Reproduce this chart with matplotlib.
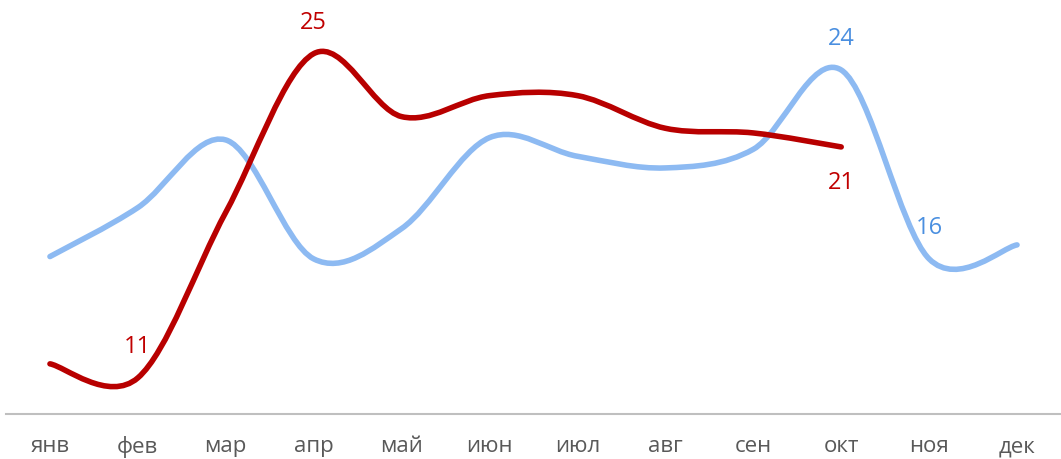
import numpy as np
import matplotlib.pyplot as plt
from matplotlib.path import Path
from matplotlib.patches import PathPatch

months = ['янв', 'фев', 'мар', 'апр', 'май', 'июн', 'июл', 'авг', 'сен', 'окт', 'ноя', 'дек']
blue_values = [16.3, 18.4, 21.3, 16.2, 17.5, 21.4, 20.6, 20.1, 20.9, 24.3, 16.2, 16.8]
red_values = [11.7, 11.1, 18.2, 25.0, 22.3, 23.2, 23.2, 21.8, 21.6, 21.0]

# which points get a value label: (index, text, above?)
blue_labels = [(9, '24', True), (10, '16', True)]
red_labels = [(1, '11', True), (3, '25', True), (9, '21', False)]

BLUE = '#8dbaf2'
BLUE_TXT = '#4a8fe0'
RED = '#b80000'
RED_TXT = '#c00000'

plt.rcParams['font.family'] = ['Open Sans', 'DejaVu Sans']


def smooth_path(xs, ys):
    # excel-like smoothed line: cubic bezier through every point
    pts = np.column_stack([xs, ys])
    n = len(pts)
    verts = [pts[0]]
    codes = [Path.MOVETO]
    for i in range(n - 1):
        p0 = pts[i - 1] if i > 0 else pts[i]
        p1 = pts[i]
        p2 = pts[i + 1]
        p3 = pts[i + 2] if i + 2 < n else pts[i + 1]
        c1 = p1 + (p2 - p0) / 6
        c2 = p2 - (p3 - p1) / 6
        verts += [c1, c2, p2]
        codes += [Path.CURVE4] * 3
    return Path(verts, codes)


fig = plt.figure(figsize=(10.61, 4.59), dpi=100)
ax = fig.add_axes([6 / 1061, 45 / 459, 1 - 6 / 1061, 414 / 459])

x_blue = np.arange(len(blue_values))
x_red = np.arange(len(red_values))

ax.add_patch(PathPatch(smooth_path(x_blue, blue_values), fill=False,
                       edgecolor=BLUE, lw=4, capstyle='round', joinstyle='round'))
ax.add_patch(PathPatch(smooth_path(x_red, red_values), fill=False,
                       edgecolor=RED, lw=4, capstyle='round', joinstyle='round'))

for i, txt, above in blue_labels:
    ax.annotate(txt, (i, blue_values[i]), xytext=(0, 22 if above else -26),
                textcoords='offset points', ha='center', va='center',
                color=BLUE_TXT, fontsize=17)
for i, txt, above in red_labels:
    ax.annotate(txt, (i, red_values[i]), xytext=(0, 22 if above else -26),
                textcoords='offset points', ha='center', va='center',
                color=RED_TXT, fontsize=17)

ax.set_xlim(-0.5, 11.5)
ax.set_ylim(9.55, 27.3)
ax.set_xticks(range(len(months)))
ax.set_xticklabels(months, fontsize=16, color='#595959')
ax.tick_params(axis='x', length=0, pad=16)
ax.set_yticks([])
for side in ['top', 'left', 'right']:
    ax.spines[side].set_visible(False)
ax.spines['bottom'].set_color('#bfbfbf')
ax.spines['bottom'].set_linewidth(1.5)

fig.savefig('out.png', dpi=100)
